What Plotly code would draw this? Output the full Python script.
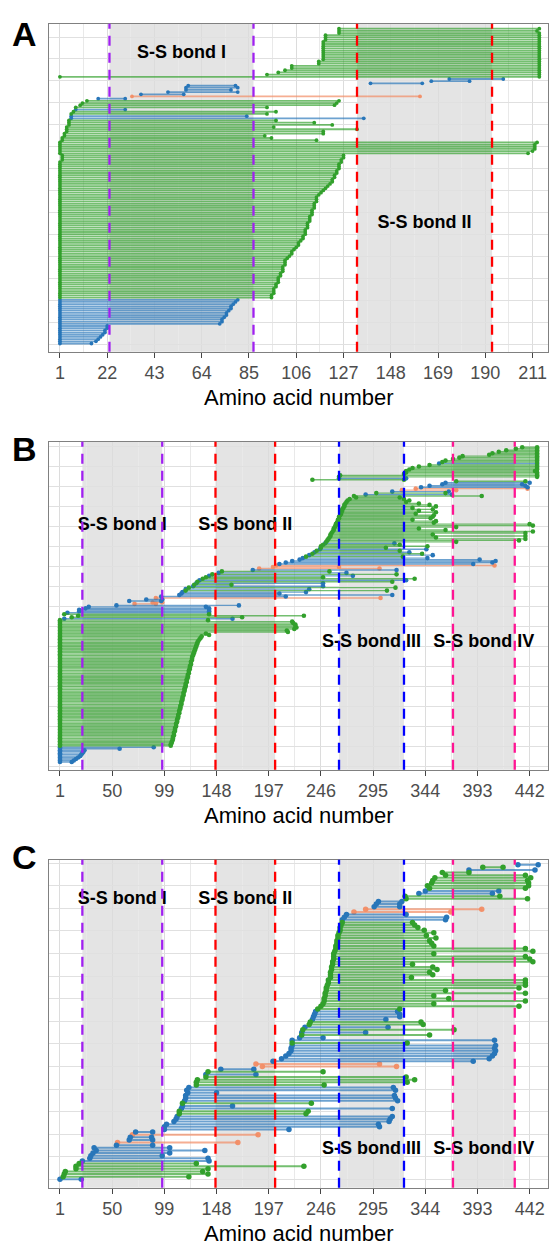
import plotly.graph_objects as go

# ---------------- Panel A (bottom row first) ----------------
A_start = [1, 1, 1, 1, 1, 1, 1, 1, 1,
           1, 1, 1, 1, 1, 1, 1, 1, 1, 1, 1, 1,
           1, 1, 1, 1, 1, 1, 1, 1, 1, 1, 1, 1, 1, 1, 1, 1, 1, 1, 1, 1,
           1, 1, 1, 1, 1, 1, 1, 1, 1, 1, 1, 1, 1, 1, 1, 1, 1, 1, 1, 1,
           1, 1, 1, 1, 1, 1, 1, 1, 1, 1, 1, 1, 1, 1, 1, 1, 1, 1, 1, 1,
           1, 1, 1, 2, 2, 2,
           1, 1, 1, 1, 1, 1,
           2, 2, 3, 3, 4, 4, 4, 5, 5, 5, 6, 6, 6, 7, 8, 8, 10, 11, 13, 18,
           33, 37, 49, 57, 57, 58, 139, 166, 174, 1,
           93, 98, 101, 104, 104, 116, 116, 118, 118, 118, 118, 118, 118, 118, 118, 118,
           119, 119, 119, 125, 125, 125]
A_end = [15, 17, 18, 19, 20, 21, 21, 22, 22,
         72, 73, 73, 74, 75, 75, 76, 77, 77, 78, 79, 80,
         95, 95, 96, 96, 96, 97, 97, 98, 98, 98, 99, 99, 100, 100, 100, 101, 101, 101, 102, 103,
         104, 104, 105, 106, 107, 107, 108, 109, 109, 110, 110, 110, 111, 111, 111, 112, 112, 112, 113, 113,
         113, 114, 114, 114, 115, 115, 115, 116, 117, 118, 119, 120, 121, 122, 122, 123, 123, 124, 124, 125,
         125, 125, 126, 126, 127, 127,
         209, 211, 212, 212, 212, 213,
         115, 95, 92, 118, 118, 133, 96, 122, 114, 97, 136, 84, 93, 97, 30, 93, 123, 124, 125, 30,
         161, 56, 80, 77, 80, 79, 162, 183, 198, 214,
         214, 214, 214, 214, 214, 214, 214, 214, 214, 214, 214, 214, 214, 214, 214, 214,
         214, 214, 214, 214, 213, 214]
A_type = ("bbbbbbbbb" "bbbbbbbbbbbb"
          "gggggggggggggggggggg" "gggggggggggggggggggg" "gggggggggggggggggggg" "gggggg"
          "gggggg"
          "gggggggggg" "bbgg" "b" "gggg" "b" "s" "bbbbbbbb" "g"
          "gggggggggggggggggggggg")

# ---------------- Panel B ----------------
B_start = [1, 1, 1, 1, 1, 1, 1, 1, 1, 1,
           1,
           1, 1, 1, 1, 1, 1, 1, 1, 1, 1, 1, 1, 1, 1, 1, 1, 1, 1, 1, 1, 1, 1, 1, 1, 1,
           1, 1, 1, 1, 1, 1, 1, 1, 1, 1, 1, 1, 1, 1, 1, 1, 1, 1, 1, 1, 1, 1, 1, 1, 1,
           1, 1, 1, 1, 1, 1, 1, 1, 1, 1, 1, 1, 1, 1, 1, 1, 1, 1, 1, 1, 1, 1, 1, 1, 1,
           1, 1, 1, 1, 1, 1, 1, 1, 1, 1,
           1, 5, 12, 18, 5, 8, 19,
           19, 25, 28, 54, 71, 88, 66, 82, 91, 96, 113, 115, 116, 119, 119, 122, 126, 127, 129, 130,
           132, 135, 138, 141, 144, 150, 153, 182, 188, 201, 204, 207, 213, 219, 226, 229, 232, 235, 238, 240,
           242, 245, 246, 246, 248, 250, 251, 252, 253, 254, 255, 255, 256, 257, 258, 258, 259, 260, 260, 261,
           262, 262, 263, 263, 264, 265, 265, 266, 266, 267, 268, 268, 269, 270, 271, 273, 279, 277, 288, 298,
           313, 322, 335, 340, 348, 360, 363, 373, 238, 263, 263, 264, 324, 326, 326, 329, 332, 338, 348, 357,
           360, 363, 370, 376, 379, 404, 407, 413, 420, 429, 435]
B_end = [12, 14, 16, 18, 20, 21, 22, 23, 24, 57,
         89,
         105, 105, 106, 106, 107, 107, 107, 108, 108, 108, 109, 109, 109, 110, 110, 110, 111, 111, 111, 112,
         112, 112, 113, 113, 113, 114, 114, 114, 115, 115, 115, 116, 116, 116, 117, 117, 117, 118, 118, 118,
         119, 119, 119, 120, 120, 120, 121, 121, 121, 122, 122, 122, 123, 123, 123, 124, 124, 124, 125, 125,
         125, 126, 126, 127, 127, 128, 128, 129, 129, 130, 130, 131, 132, 133, 134,
         141, 138, 215, 214, 221, 223, 222, 222, 220, 219,
         140, 163, 172, 230, 141, 141, 141,
         141, 141, 138, 169, 91, 97, 96, 97, 302, 213, 313, 207, 232, 308, 235, 316, 248, 162, 248, 313,
         326, 334, 248, 276, 317, 270, 254, 317, 301, 263, 409, 389, 407, 410, 395, 346, 323, 351, 341, 329,
         320, 345, 307, 346, 320, 315, 373, 432, 438, 354, 438, 351, 438, 445, 363, 338, 373, 445, 442, 352,
         354, 332, 349, 351, 352, 335, 354, 338, 351, 332, 354, 348, 338, 326, 329, 324, 320, 397, 369, 363,
         366, 373, 440, 440, 438, 435, 442, 438, 324, 326, 449, 449, 449, 449, 447, 449, 449, 449, 449, 449,
         449, 449, 449, 449, 449, 449, 449, 449, 449, 449, 449]
B_type = ("bbbbbbbbbb" "b"
          "gggggggggggggggggggggggggggggggggggggggggggggggggggggggggggggggggggggggggggg"
          "gggggggggg"
          "bgggbbb"
          "bbbssbbsbbbbgbgbgbgb"
          "ggbgbgbsssbbbbbgbgbgb"
          "gggbggggggggggggggggg"
          "gggggggggggggggbgbssbbbbggbggg"
          "ggggggbgggggggggggbbbbbb")

# ---------------- Panel C ----------------
C_start = [1, 4, 5, 6, 16, 16, 19, 22, 29, 30, 32, 35, 33, 54, 55, 66, 67, 69, 72, 99,
           99, 101, 108, 110, 111, 113, 113, 115, 116, 116, 118, 119, 119, 121, 120, 122, 129, 129, 130, 138,
           138, 140, 152, 191, 185, 201, 209, 213, 216, 218, 218, 219, 219, 219, 226, 228, 228, 229, 231, 235,
           236, 238, 239, 240, 241, 243, 246, 248, 249, 249, 250, 250, 251, 251, 252, 253, 253, 255, 255, 255,
           256, 256, 257, 257, 258, 258, 258, 259, 260, 260, 261, 261, 262, 262, 263, 264, 264, 265, 266, 266,
           268, 270, 277, 288, 296, 298, 300, 326, 325, 338, 344, 348, 346, 350, 351, 353, 363, 360, 385, 398,
           431]
C_end = [21, 122, 140, 135, 140, 230, 129, 141, 140, 97, 104, 137, 104, 88, 168, 88, 87, 187, 88, 216,
         301, 300, 310, 311, 313, 232, 234, 313, 163, 237, 318, 316, 315, 148, 316, 314, 249, 327, 334, 326,
         185, 248, 183, 317, 301, 389, 404, 407, 409, 410, 409, 410, 327, 409, 248, 348, 288, 371, 309, 342,
         340, 307, 320, 320, 318, 320, 432, 352, 438, 366, 352, 438, 363, 432, 438, 438, 438, 331, 351, 348,
         355, 351, 332, 445, 442, 438, 352, 445, 438, 352, 350, 348, 354, 345, 352, 343, 337, 334, 332, 363,
         364, 326, 368, 397, 320, 320, 322, 440, 414, 407, 413, 438, 441, 441, 440, 443, 438, 385, 447, 417,
         450]
C_type = ("bggggggbbbbbbbsbbsbb"
          "bbbbbggbbgbbbbbbgggg"
          "bgbssbbbbbbbgbbgbgbg"
          "gbbbbggggggggggggggg"
          "gggggggggggggggggggb"
          "bbssbbbggbbgggggggbgb"
          "b")

# ---------------- bonds ----------------
A_bond_pos = [23, 87, 133, 193]
BC_bond_pos = [22, 97, 147, 203, 263, 324, 370, 428]
bond_colors = ["#a020f0", "#ff0000", "#0000ff", "#ff1493"]
bond_names = ["S-S bond I", "S-S bond II", "S-S bond III", "S-S bond IV"]

COL = {"g": ("rgba(50,160,44,0.68)", "rgba(50,160,44,1)"),
       "b": ("rgba(40,118,185,0.68)", "rgba(40,118,185,1)"),
       "s": ("rgba(242,140,100,0.7)", "rgba(242,140,100,0.95)")}

W, H = 550, 1247
XL, XR = 48.7, 548.3
FONT = "Liberation Sans, Arial, sans-serif"

panels = [
    dict(letter="A", s=A_start, e=A_end, t=A_type, ax="", top=23.7, bot=351.7, r1=343.5, rN=28.7,
         xr=[-4, 218], dtick=21, lw=1.8, ms=3.8, bonds=A_bond_pos,
         grid=[37 + 21.93 * k for k in range(15)], lab_y=[53.7, 223.3], letter_y=34),
    dict(letter="B", s=B_start, e=B_end, t=B_type, ax="2", top=441.7, bot=769.7, r1=762.0, rN=447.3,
         xr=[-9.6, 459.5], dtick=49, lw=1.4, ms=4.6, bonds=BC_bond_pos,
         grid=[446.5 + 20 * k for k in range(17)], lab_y=[526, 526, 643, 643], letter_y=449),
    dict(letter="C", s=C_start, e=C_end, t=C_type, ax="3", top=859.7, bot=1187.7, r1=1179.3, rN=864.7,
         xr=[-9.6, 459.5], dtick=49, lw=2.0, ms=5.5, bonds=BC_bond_pos,
         grid=[863 + 22.6 * k for k in range(15)], lab_y=[899.7, 899.7, 1149.3, 1149.3], letter_y=857),
]

fig = go.Figure()
shapes, annotations = [], []
layout = {}

for p in panels:
    n = len(p["s"])
    ppr = (p["r1"] - p["rN"]) / (n - 1)
    row = lambda px, p=p, ppr=ppr: 1 + (p["r1"] - px) / ppr
    xa, ya = "x" + p["ax"], "y" + p["ax"]
    # segments
    for key in ["s", "b", "g"]:
        xs, ys, mx, my = [], [], [], []
        for i in range(n):
            if p["t"][i] != key:
                continue
            yv = i + 1
            xs += [p["s"][i], p["e"][i], None]
            ys += [yv, yv, None]
            mx += [p["s"][i], p["e"][i]]
            my += [yv, yv]
        fig.add_trace(go.Scatter(x=xs, y=ys, mode="lines", xaxis=xa, yaxis=ya,
                                 line=dict(color=COL[key][0], width=p["lw"]), hoverinfo="skip"))
        fig.add_trace(go.Scatter(x=mx, y=my, mode="markers", xaxis=xa, yaxis=ya,
                                 marker=dict(color=COL[key][1], size=p["ms"], line=dict(width=0)),
                                 hoverinfo="skip"))
    # bond labels (text trace so dashed lines draw above it)
    nb = len(p["bonds"]) // 2
    fig.add_trace(go.Scatter(
        x=[(p["bonds"][2 * k] + p["bonds"][2 * k + 1]) / 2 for k in range(nb)],
        y=[row(p["lab_y"][k]) for k in range(nb)],
        text=["<b>" + bond_names[k] + "</b>" for k in range(nb)],
        mode="text", textposition="middle center", xaxis=xa, yaxis=ya,
        textfont=dict(family=FONT, size=18, color="black"), hoverinfo="skip"))
    # shaded regions and dashed lines
    for k in range(nb):
        x0, x1 = p["bonds"][2 * k], p["bonds"][2 * k + 1]
        shapes.append(dict(type="rect", xref=xa, yref=ya + " domain", x0=x0, x1=x1, y0=0, y1=1,
                           fillcolor="rgba(0,0,0,0.105)", line=dict(width=0), layer="below"))
        for xv in (x0, x1):
            shapes.append(dict(type="line", xref=xa, yref=ya + " domain", x0=xv, x1=xv, y0=0, y1=1,
                               line=dict(color=bond_colors[k], width=2.3, dash="10px,7px"), layer="above"))
    ydom = [1 - p["bot"] / H, 1 - p["top"] / H]
    layout["xaxis" + p["ax"]] = dict(
        domain=[XL / W, XR / W], range=p["xr"], anchor=ya, tick0=1, dtick=p["dtick"],
        showgrid=True, gridcolor="#dcdcdc", gridwidth=1.3, zeroline=False,
        minor=dict(tick0=1, dtick=p["dtick"] / 2, showgrid=True, gridcolor="#e9e9e9", gridwidth=1),
        showline=True, mirror=True, linecolor="#808080", linewidth=1.2,
        ticks="outside", ticklen=5, tickcolor="#444", tickwidth=1.2,
        tickfont=dict(family=FONT, size=18, color="#4d4d4d"))
    layout["yaxis" + p["ax"]] = dict(
        domain=ydom, range=[row(p["bot"]), row(p["top"])], anchor=xa,
        tickmode="array", tickvals=[row(g) for g in p["grid"]], showticklabels=False, ticks="",
        showgrid=True, gridcolor="#e0e0e0", gridwidth=1.2, zeroline=False,
        showline=True, mirror=True, linecolor="#808080", linewidth=1.2)
    annotations.append(dict(text="<b>" + p["letter"] + "</b>", x=24 / W, y=1 - p["letter_y"] / H,
                            xref="paper", yref="paper", showarrow=False,
                            font=dict(family=FONT, size=34, color="black"),
                            xanchor="center", yanchor="middle"))
    annotations.append(dict(text="Amino acid number", x=(XL + XR) / 2 / W, y=1 - (p["bot"] + 46) / H,
                            xref="paper", yref="paper", showarrow=False,
                            font=dict(family=FONT, size=22, color="black"),
                            xanchor="center", yanchor="middle"))

fig.update_layout(width=W, height=H, margin=dict(l=0, r=0, t=0, b=0), showlegend=False,
                  plot_bgcolor="white", paper_bgcolor="white", shapes=shapes,
                  annotations=annotations, **layout)
fig.write_html("out.html")
